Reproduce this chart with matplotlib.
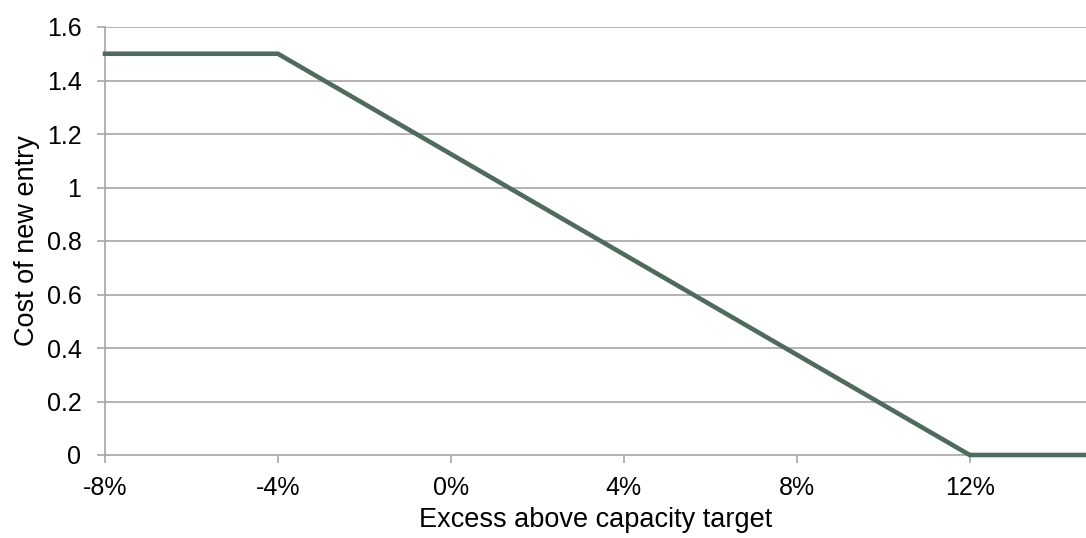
import matplotlib
matplotlib.use("Agg")
import matplotlib.pyplot as plt
from matplotlib.ticker import FuncFormatter

excess_pct = [-8, -4, 12, 14.7]
cost = [1.5, 1.5, 0, 0]
x_ticks = [-8, -4, 0, 4, 8, 12]
y_ticks = [0, 0.2, 0.4, 0.6, 0.8, 1, 1.2, 1.4, 1.6]

plt.rcParams['font.family'] = ['Liberation Sans', 'DejaVu Sans']
fig = plt.figure(figsize=(10.86, 5.38), dpi=100)
ax = fig.add_axes([105/1086, 1-455/538, 1-105/1086, (455-27)/538])

grid_c = '#a6a6a6'
for yv in y_ticks[1:]:
    ax.axhline(yv, color=grid_c, lw=1.2, zorder=1)
ax.plot(excess_pct, cost, color='#4e6b5c', lw=3.3, solid_joinstyle='miter', zorder=3, clip_on=False)

ax.set_xlim(-8, 14.69)
ax.set_ylim(0, 1.6)
ax.set_xticks(x_ticks)
ax.set_yticks(y_ticks)
ax.xaxis.set_major_formatter(FuncFormatter(lambda v, p: f"{v:.0f}%"))
ax.yaxis.set_major_formatter(FuncFormatter(lambda v, p: f"{v:g}"))
for s in ['top', 'right']:
    ax.spines[s].set_visible(False)
for s in ['left', 'bottom']:
    ax.spines[s].set_color(grid_c)
    ax.spines[s].set_linewidth(1.2)
ax.tick_params(axis='both', direction='out', length=6, width=1.2, color=grid_c,
               labelsize=18, labelcolor='black')
ax.tick_params(axis='x', pad=9)
ax.tick_params(axis='y', pad=11)
ax.set_xlabel('Excess above capacity target', fontsize=19.5, labelpad=5)
ax.set_ylabel('Cost of new entry', fontsize=19.5, labelpad=5)
fig.savefig('out.png', dpi=100)
